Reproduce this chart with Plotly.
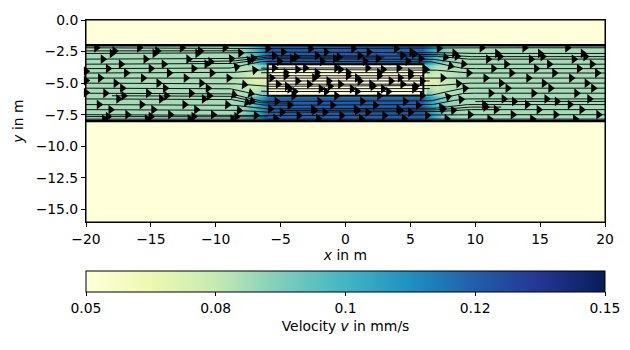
import numpy as np
import plotly.graph_objects as go

# ---------------- data ----------------
# velocity field (mm/s) inside the aquifer layer, sampled at grid nodes
hx = [-20, -9.0, -7.8, -7.0, -6.3, -5.9, 0, 5.9, 6.3, 7.0, 7.8, 9.0, 20]
hy = [-2.0, -2.8, -3.4, -3.6, -4.75, -5.9, -6.1, -7.2, -8.0]
hz = [
    [0.081, 0.081, 0.086, 0.100, 0.115, 0.125, 0.125, 0.125, 0.115, 0.100, 0.086, 0.081, 0.081],
    [0.081, 0.081, 0.085, 0.100, 0.115, 0.125, 0.125, 0.125, 0.115, 0.100, 0.085, 0.081, 0.081],
    [0.081, 0.081, 0.083, 0.095, 0.112, 0.125, 0.125, 0.125, 0.112, 0.095, 0.083, 0.081, 0.081],
    [0.081, 0.081, 0.079, 0.080, 0.092, 0.050, 0.050, 0.050, 0.092, 0.080, 0.079, 0.081, 0.081],
    [0.081, 0.080, 0.075, 0.067, 0.066, 0.050, 0.050, 0.050, 0.066, 0.067, 0.075, 0.080, 0.081],
    [0.081, 0.081, 0.079, 0.080, 0.092, 0.050, 0.050, 0.050, 0.092, 0.080, 0.079, 0.081, 0.081],
    [0.081, 0.081, 0.084, 0.098, 0.114, 0.125, 0.125, 0.125, 0.114, 0.098, 0.084, 0.081, 0.081],
    [0.081, 0.081, 0.086, 0.100, 0.115, 0.125, 0.125, 0.125, 0.115, 0.100, 0.086, 0.081, 0.081],
    [0.081, 0.081, 0.086, 0.100, 0.115, 0.125, 0.125, 0.125, 0.115, 0.100, 0.086, 0.081, 0.081],
]
v_min, v_max = 0.05, 0.15
cbar_vals = [0.05, 0.075, 0.1, 0.125, 0.15]
cbar_text = ["0.05", "0.08", "0.1", "0.12", "0.15"]

# geometry of the layers (m)
aquifer_top, aquifer_bot = -2.0, -8.0
block_x = [-6.0, 6.0]
block_y = [-3.5, -6.0]

# streamlines: far-field seed depth, x extent, arrow phase and arrow spacing
line_y0 = [-2.2, -2.65, -3.1, -3.5, -3.85, -4.2, -4.6, -5.0, -5.4, -5.8, -6.25, -6.7, -7.1, -7.5, -7.85,
           -2.45, -3.3, -6.0, -6.9, -7.65, -2.9, -6.45,
           -4.13, -4.35, -4.5, -4.75, -4.9, -5.12, -5.25]
line_xa = [-20] * 15 + [-20, -12, -18, -5, -20, 4, 10,
                        -6.5, -6.5, -6.0, -6.0, -6.0, -6.0, -6.5]
line_xb = [20] * 15 + [-8, 3, -4, 12, -6, 20, 20,
                       6.0, 6.5, 6.0, 6.5, 6.0, 6.5, 6.0]
arrow_phase = [0.0, 1.2, 0.5, 1.9, 0.9, 2.3, 0.3, 1.5, 2.0, 0.7, 1.7, 0.2, 1.1, 2.4, 0.6,
               1.4, 0.8, 0.1, 1.8, 0.9, 0.5, 2.2,
               0.2, 1.1, 0.6, 1.5, 0.0, 0.9, 1.8]
arrow_step = [3.3] * 22 + [2.4] * 7
# arrows of streamline starts sitting on the left border
edge_arrow_y = [-4.05, -4.8, -5.75]
# deflection of streamlines beside the block: far depth -> depth at the block
far_pts = [-8.0, -5.5, -5.3, -4.1, -3.9, -2.0]
near_pts = [-7.9, -6.25, -5.75, -3.75, -3.3, -2.15]
bend_outer, bend_inner = 9.5, 6.0

YlGnBu = ["#ffffd9", "#edf8b1", "#c7e9b4", "#7fcdbb", "#41b6c4",
          "#1d91c0", "#225ea8", "#253494", "#081d58"]
colorscale = [[i / 8, c] for i, c in enumerate(YlGnBu)]

FONT = "DejaVu Sans"
FS = 13.9


def path(y0, xa, xb):
    xs = np.linspace(xa, xb, int((xb - xa) / 0.1) + 1)
    y1 = np.interp(y0, far_pts, near_pts)
    t = np.clip((bend_outer - np.abs(xs)) / (bend_outer - bend_inner), 0, 1)
    s = t * t * (3 - 2 * t)
    return xs, y0 + (y1 - y0) * s


fig = go.Figure()
fig.add_trace(go.Heatmap(
    x=hx, y=hy, z=hz, zmin=v_min, zmax=v_max, zsmooth="best",
    colorscale=colorscale, hoverinfo="skip",
    colorbar=dict(
        orientation="h", x=0.5, xanchor="center", len=1.0, lenmode="fraction",
        y=-0.243, yanchor="top", thickness=21, xpad=0, ypad=0,
        outlinecolor="black", outlinewidth=1,
        tickvals=cbar_vals, ticktext=cbar_text, ticks="outside", ticklen=4,
        tickcolor="black", tickfont=dict(family=FONT, size=FS, color="black"),
        title=dict(text="Velocity <i>v</i> in mm/s", side="bottom",
                   font=dict(family=FONT, size=FS, color="black")),
    ),
))

lx, ly = [], []
ax, ay, aang = [], [], []
for k, (y0, xa, xb) in enumerate(zip(line_y0, line_xa, line_xb)):
    xs, ys = path(y0, xa, xb)
    lx += list(xs) + [None]
    ly += list(ys) + [None]
    p = xa + arrow_phase[k] + 0.8
    while p < xb - 0.4:
        yy = np.interp(p, xs, ys)
        dy = np.interp(p + 0.05, xs, ys) - np.interp(p - 0.05, xs, ys)
        ax.append(p)
        ay.append(yy)
        aang.append(-np.degrees(np.arctan2(dy * 12.875, 0.1 * 12.975)))
        p += arrow_step[k]

fig.add_trace(go.Scatter(x=lx, y=ly, mode="lines", line=dict(color="#111111", width=1),
                         hoverinfo="skip", showlegend=False))
fig.add_trace(go.Scatter(x=ax, y=ay, mode="markers", hoverinfo="skip", showlegend=False,
                         marker=dict(symbol="triangle-right", size=8.5, color="black",
                                     angle=aang, line=dict(width=0))))
fig.add_trace(go.Scatter(x=[-20] * len(edge_arrow_y), y=edge_arrow_y, mode="markers",
                         hoverinfo="skip", showlegend=False, cliponaxis=False,
                         marker=dict(symbol="triangle-right", size=8.5, color="black",
                                     line=dict(width=0))))

bg = YlGnBu[0]
shapes = [
    dict(type="rect", xref="x", yref="y", x0=-20, x1=20, y0=0, y1=aquifer_top,
         fillcolor=bg, line=dict(width=0), layer="above"),
    dict(type="rect", xref="x", yref="y", x0=-20, x1=20, y0=aquifer_bot, y1=-16,
         fillcolor=bg, line=dict(width=0), layer="above"),
    dict(type="line", xref="x", yref="y", x0=-20, x1=20, y0=aquifer_top, y1=aquifer_top,
         line=dict(color="black", width=2.5), layer="above"),
    dict(type="line", xref="x", yref="y", x0=-20, x1=20, y0=aquifer_bot, y1=aquifer_bot,
         line=dict(color="black", width=2.5), layer="above"),
    dict(type="rect", xref="x", yref="y", x0=block_x[0], x1=block_x[1], y0=block_y[0], y1=block_y[1],
         line=dict(color="black", width=2), layer="above"),
    dict(type="rect", xref="paper", yref="paper", x0=0, x1=1, y0=0, y1=1,
         line=dict(color="black", width=1), layer="above"),
]

fig.update_layout(
    width=630, height=350, margin=dict(l=86, r=25, t=16, b=128),
    paper_bgcolor="white", plot_bgcolor=bg, showlegend=False,
    font=dict(family=FONT, size=FS, color="black"),
    shapes=shapes,
)
fig.update_xaxes(range=[-20, 20], tickvals=[-20, -15, -10, -5, 0, 5, 10, 15, 20],
                 ticks="outside", ticklen=4, tickcolor="black", showgrid=False, zeroline=False,
                 showline=True, linecolor="black", mirror=True,
                 tickfont=dict(family=FONT, size=FS, color="black"),
                 title=dict(text="<i>x</i> in m", standoff=4,
                            font=dict(family=FONT, size=FS, color="black")))
fig.update_yaxes(range=[-16, 0], tickvals=[0, -2.5, -5, -7.5, -10, -12.5, -15], tickformat=".1f",
                 ticks="outside", ticklen=4, tickcolor="black", showgrid=False, zeroline=False,
                 showline=True, linecolor="black", mirror=True,
                 tickfont=dict(family=FONT, size=FS, color="black"),
                 title=dict(text="<i>y</i> in m", standoff=8,
                            font=dict(family=FONT, size=FS, color="black")))

fig.write_html("out.html")
